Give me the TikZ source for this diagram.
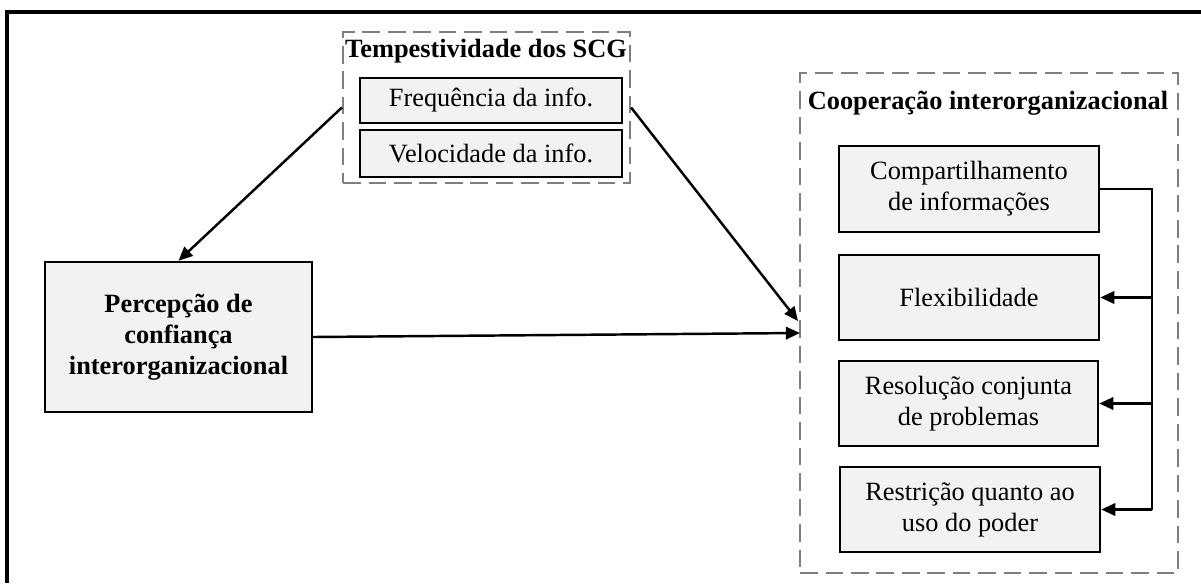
\documentclass[tikz,border=0pt]{standalone}
\usepackage{fontspec}
\setmainfont{Liberation Serif}
\usetikzlibrary{arrows.meta}
\definecolor{caixa}{HTML}{F2F2F2}
\definecolor{tracejado}{HTML}{7F7F7F}

\begin{document}
\begin{tikzpicture}[x=0.02cm, y=-0.02cm,
    fonte/.style={font=\fontsize{15}{17.6}\selectfont},
    caixinha/.style={fonte, draw, line width=1.4pt, fill=caixa, align=center, inner sep=0pt},
    grupo/.style={draw=tracejado, line width=1.3pt, dash pattern=on 10pt off 4.5pt, inner sep=0pt},
    titulo/.style={font=\fontsize{15}{17.6}\selectfont\bfseries, inner sep=0pt},
    seta/.style={line width=1.4pt, -{Triangle[length=8pt,width=7pt]}}]
    \useasboundingbox (0,0) rectangle (1201,583);

    % moldura externa
    \draw[line width=2pt] (7,583) -- (7,12) -- (1201,12);

    % grupo da tempestividade
    \node[grupo, minimum width=5.74cm, minimum height=3.02cm] (tempo) at (486.5,107.5) {};
    \node[titulo] (tempotit) at (486,51) {Tempestividade dos SCG};
    \node[caixinha, minimum width=5.24cm, minimum height=0.9cm] (freq) at (491,100.5) {Frequência da info.};
    \node[caixinha, minimum width=5.24cm, minimum height=0.94cm] (veloc) at (491,153.5) {Velocidade da info.};

    % confianca
    \node[caixinha, font=\fontsize{15}{17.6}\selectfont\bfseries, minimum width=5.34cm, minimum height=3cm] (perc) at (178.5,337)
        {Percepção de\\confiança\\interorganizacional};

    % grupo da cooperacao
    \node[grupo, minimum width=7.56cm, minimum height=10cm] (coop) at (989,323) {};
    \node[titulo] (cooptit) at (988,103) {Cooperação interorganizacional};
    \node[caixinha, minimum width=5.2cm, minimum height=1.72cm] (comp) at (969,189) {Compartilhamento\\de informações};
    \node[caixinha, minimum width=5.2cm, minimum height=1.7cm] (flex) at (969,297.5) {Flexibilidade};
    \node[caixinha, minimum width=5.18cm, minimum height=1.7cm] (resol) at (968.5,403.5) {Resolução conjunta\\de problemas};
    \node[caixinha, minimum width=5.2cm, minimum height=1.7cm] (restr) at (970,509.5) {Restrição quanto ao\\uso do poder};

    % pontos de chegada
    \coordinate (chegaA) at (798,321);
    \coordinate (chegaB) at (800,333);
    \coordinate (desce) at (1152,509.5);

    % setas
    \draw[seta] (tempo.west) -- (perc.north);
    \draw[seta] (tempo.east) -- (chegaA);
    \draw[seta] (perc.east) -- (chegaB);

    % chave da direita
    \draw[line width=1.6pt] (comp.east) -- (comp.east -| desce) -- (desce);
    \draw[seta] (flex.east -| desce) -- (flex.east);
    \draw[seta] (resol.east -| desce) -- (resol.east);
    \draw[seta] (desce) -- (restr.east);
\end{tikzpicture}
\end{document}
